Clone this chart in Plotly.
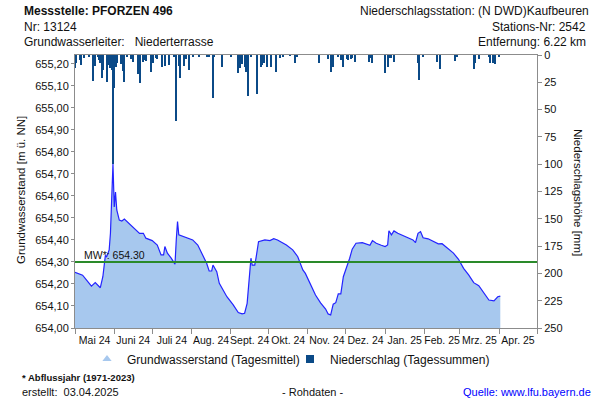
import plotly.graph_objects as go
import pandas as pd

# ---------------- data ----------------
gw_dates = [
    "2024-05-01", "2024-05-07", "2024-05-14", "2024-05-17", "2024-05-21", "2024-05-23",
    "2024-05-25", "2024-05-26", "2024-05-28", "2024-05-29", "2024-05-31", "2024-06-01",
    "2024-06-02", "2024-06-03", "2024-06-05", "2024-06-07", "2024-06-09", "2024-06-13",
    "2024-06-18", "2024-06-21", "2024-06-24", "2024-06-26", "2024-07-01", "2024-07-05",
    "2024-07-08", "2024-07-10", "2024-07-11", "2024-07-13", "2024-07-16", "2024-07-19",
    "2024-07-20", "2024-07-21", "2024-07-22", "2024-07-26", "2024-08-02", "2024-08-06",
    "2024-08-10", "2024-08-13", "2024-08-15", "2024-08-17", "2024-08-18", "2024-08-21",
    "2024-08-23", "2024-08-29", "2024-09-03", "2024-09-07", "2024-09-10", "2024-09-12",
    "2024-09-14", "2024-09-15", "2024-09-17", "2024-09-18", "2024-09-20", "2024-09-21",
    "2024-09-23", "2024-09-28", "2024-10-02", "2024-10-05", "2024-10-08", "2024-10-15",
    "2024-10-20", "2024-10-24", "2024-10-28", "2024-10-30", "2024-11-03", "2024-11-07",
    "2024-11-11", "2024-11-15", "2024-11-17", "2024-11-19", "2024-11-21", "2024-11-23",
    "2024-11-25", "2024-11-27", "2024-11-29", "2024-12-01", "2024-12-04", "2024-12-06",
    "2024-12-09", "2024-12-14", "2024-12-18", "2024-12-20", "2024-12-22", "2024-12-25",
    "2024-12-29", "2025-01-01", "2025-01-03", "2025-01-04", "2025-01-06", "2025-01-08",
    "2025-01-11", "2025-01-17", "2025-01-23", "2025-01-25", "2025-01-27", "2025-01-29",
    "2025-01-31", "2025-02-04", "2025-02-08", "2025-02-12", "2025-02-15", "2025-02-19",
    "2025-02-24", "2025-02-28", "2025-03-04", "2025-03-08", "2025-03-12", "2025-03-16",
    "2025-03-20", "2025-03-24", "2025-03-28", "2025-03-31", "2025-04-02",
]
gw_values = [
    654.253, 654.240, 654.190, 654.206, 654.183, 654.233,
    654.330, 654.324, 654.355, 654.430, 654.745, 654.550,
    654.617, 654.536, 654.490, 654.486, 654.495, 654.473,
    654.445, 654.430, 654.430, 654.408, 654.397, 654.377,
    654.332, 654.332, 654.370, 654.340, 654.317, 654.290,
    654.400, 654.483, 654.423, 654.415, 654.400, 654.377,
    654.332, 654.294, 654.259, 654.259, 654.286, 654.256,
    654.203, 654.142, 654.105, 654.070, 654.064, 654.067,
    654.112, 654.188, 654.317, 654.286, 654.286, 654.317,
    654.392, 654.400, 654.397, 654.406, 654.400, 654.377,
    654.355, 654.324, 654.264, 654.248, 654.200, 654.150,
    654.114, 654.086, 654.064, 654.059, 654.108, 654.115,
    654.155, 654.155, 654.233, 654.264, 654.317, 654.358,
    654.385, 654.388, 654.382, 654.376, 654.397, 654.385,
    654.376, 654.370, 654.377, 654.442, 654.423, 654.441,
    654.430, 654.415, 654.400, 654.388, 654.430, 654.438,
    654.410, 654.405, 654.395, 654.382, 654.383, 654.362,
    654.340, 654.312, 654.271, 654.241, 654.206, 654.192,
    654.160, 654.127, 654.123, 654.142, 654.145,
]

rain_dates = [
    "2024-05-01", "2024-05-02", "2024-05-05", "2024-05-06", "2024-05-08", "2024-05-12",
    "2024-05-15", "2024-05-17", "2024-05-19", "2024-05-20", "2024-05-21", "2024-05-22",
    "2024-05-23", "2024-05-26", "2024-05-28", "2024-05-29", "2024-05-30", "2024-05-31",
    "2024-06-01", "2024-06-02", "2024-06-03", "2024-06-06", "2024-06-07", "2024-06-08",
    "2024-06-09", "2024-06-11", "2024-06-14", "2024-06-16", "2024-06-20", "2024-06-21",
    "2024-06-24", "2024-06-25", "2024-06-26", "2024-06-30", "2024-07-02", "2024-07-04",
    "2024-07-05", "2024-07-09", "2024-07-11", "2024-07-14", "2024-07-18", "2024-07-20",
    "2024-07-22", "2024-07-23", "2024-07-26", "2024-07-28", "2024-07-30", "2024-08-02",
    "2024-08-07", "2024-08-13", "2024-08-15", "2024-08-18", "2024-08-19", "2024-08-25",
    "2024-09-01", "2024-09-07", "2024-09-08", "2024-09-10", "2024-09-12", "2024-09-13",
    "2024-09-15", "2024-09-17", "2024-09-22", "2024-09-25", "2024-09-26", "2024-09-27",
    "2024-09-30", "2024-10-03", "2024-10-07", "2024-10-10", "2024-10-12", "2024-10-18",
    "2024-10-22", "2024-10-23", "2024-11-10", "2024-11-17", "2024-11-19", "2024-11-21",
    "2024-11-25", "2024-11-27", "2024-11-29", "2024-12-02", "2024-12-03", "2024-12-05",
    "2024-12-06", "2024-12-08", "2024-12-19", "2024-12-21", "2024-12-22", "2025-01-01",
    "2025-01-03", "2025-01-04", "2025-01-06", "2025-01-08", "2025-01-27", "2025-01-28",
    "2025-01-31", "2025-02-11", "2025-02-13", "2025-02-25", "2025-02-27", "2025-03-12",
    "2025-03-13", "2025-03-16", "2025-03-24", "2025-03-25", "2025-03-27", "2025-03-29",
    "2025-04-01",
]
rain_values = [
    12.2, 7.6, 4.6, 9.2, 3.0, 2.0,
    23.5, 10.0, 2.0, 4.6, 7.6, 21.4,
    13.7, 24.4, 9.2, 12.2, 13.7, 100.0,
    29.9, 10.7, 7.6, 8.2, 2.1, 14.4,
    24.4, 1.5, 4.0, 6.1, 17.4, 25.3,
    6.1, 4.6, 5.2, 15.3, 7.0, 3.1,
    4.0, 10.7, 9.8, 9.2, 2.1, 60.4,
    10.0, 21.4, 10.0, 4.0, 13.7, 2.1,
    1.5, 2.1, 1.5, 39.0, 1.5, 11.3,
    2.1, 16.2, 12.2, 8.2, 10.7, 15.3,
    37.5, 1.5, 36.0, 11.3, 9.2, 7.0,
    11.3, 10.7, 15.9, 3.1, 2.1, 0.9,
    7.0, 2.1, 7.6, 4.0, 15.3, 10.7,
    1.5, 4.6, 11.3, 4.0, 4.6, 4.0,
    3.1, 6.1, 6.1, 3.1, 7.0, 16.2,
    10.7, 3.1, 3.1, 6.1, 7.6, 22.9,
    1.5, 6.1, 13.1, 5.2, 1.5, 12.8,
    7.0, 4.0, 2.1, 7.6, 7.0, 8.2,
    1.5,
]

mean_level = 654.30
month_labels = ["Mai 24", "Juni 24", "Juli 24", "Aug. 24", "Sept. 24", "Okt. 24",
                "Nov. 24", "Dez. 24", "Jan. 25", "Feb. 25", "Mrz. 25", "Apr. 25"]
gw_ticks = [654.0 + i * 0.1 for i in range(13)]
rain_ticks = list(range(0, 251, 25))

# ---------------- derived axis positions ----------------
month_starts = pd.date_range("2024-05-01", periods=13, freq="MS")
month_mids = [month_starts[i] + (month_starts[i + 1] - month_starts[i]) / 2 for i in range(12)]

FONT = "Liberation Sans, Arial, sans-serif"
GW_LINE = "#2323ff"
GW_FILL = "#a7c8ee"
RAIN = "#0b4a87"
AXIS = "#8c8c8c"

fig = go.Figure()

fig.add_trace(go.Scatter(
    x=gw_dates, y=gw_values, mode="lines",
    line=dict(color=GW_LINE, width=1.2),
    fill="tozeroy", fillcolor=GW_FILL,
    yaxis="y", showlegend=False, hoverinfo="x+y",
))

fig.add_trace(go.Bar(
    x=rain_dates, y=rain_values, yaxis="y2",
    marker=dict(color=RAIN, line=dict(width=0)),
    width=86400000 * 0.8, showlegend=False,
))

# legend entries
fig.add_trace(go.Scatter(
    x=[None], y=[None], mode="markers", name="Grundwasserstand (Tagesmittel)",
    marker=dict(symbol="triangle-up", color=GW_FILL, size=8), legend="legend",
))
fig.add_trace(go.Scatter(
    x=[None], y=[None], mode="markers", name="Niederschlag (Tagessummen)",
    marker=dict(symbol="square", color=RAIN, size=8), legend="legend2",
))

fig.add_shape(type="line", xref="paper", x0=0, x1=1, yref="y", y0=mean_level, y1=mean_level,
              line=dict(color="#2a8a2a", width=2), layer="above")


def ann(text, x, y, xanchor="left", size=12, bold=False, color="#111", **kw):
    if bold:
        text = "<b>" + text + "</b>"
    fig.add_annotation(text=text, x=x, y=y, xref="paper", yref="paper",
                       xanchor=xanchor, yanchor="middle", showarrow=False,
                       font=dict(family=FONT, size=size, color=color), **kw)


def px_x(p):
    return (p - 75) / 462.0


def px_y(p):
    return (328 - p) / 273.0


ann("Messstelle: PFORZEN 496", px_x(22), px_y(11.5), bold=True)
ann("Nr: 13124", px_x(22), px_y(27.5))
ann("Grundwasserleiter:&nbsp;&nbsp;&nbsp;Niederterrasse", px_x(22), px_y(42.5))
ann("Niederschlagsstation: (N DWD)Kaufbeuren", px_x(591), px_y(11.5), xanchor="right")
ann("Stations-Nr: 2542", px_x(588), px_y(27.5), xanchor="right")
ann("Entfernung: 6.22 km", px_x(588), px_y(42.5), xanchor="right")

ann("Grundwasserstand [m ü. NN]", px_x(21), px_y(190), xanchor="center", size=11.5, textangle=-90)
ann("Niederschlagshöhe [mm]", px_x(578), px_y(192), xanchor="center", size=11.5, textangle=90)

ann("* Abflussjahr (1971-2023)", px_x(20), px_y(377), size=9.5, bold=True)
ann("erstellt:&nbsp;&nbsp;03.04.2025", px_x(20), px_y(392), size=11)
ann("- Rohdaten -", px_x(312), px_y(392), xanchor="center", size=11)
ann("Quelle: www.lfu.bayern.de", px_x(593), px_y(392), xanchor="right", size=11, color="#0000ff")

fig.add_annotation(text="MW*: 654.30", x=px_x(82), y=mean_level, xref="paper", yref="y",
                   xanchor="left", yanchor="bottom", showarrow=False, yshift=-1,
                   font=dict(family=FONT, size=10.5, color="#111"))

legend_common = dict(orientation="h", yanchor="middle", y=px_y(359), xanchor="left",
                     font=dict(family=FONT, size=12, color="#111"), itemwidth=30,
                     bgcolor="rgba(0,0,0,0)")

fig.update_layout(
    width=600, height=400, autosize=False,
    margin=dict(l=75, r=63, t=55, b=72, pad=0),
    paper_bgcolor="white", plot_bgcolor="white",
    separators=",.",
    font=dict(family=FONT, size=11, color="#111"),
    bargap=0,
    showlegend=True,
    legend=dict(x=px_x(87), **legend_common),
    legend2=dict(x=px_x(290), **legend_common),
    xaxis=dict(
        type="date", range=[month_starts[0], month_starts[-1]],
        tickmode="array", tickvals=month_mids, ticktext=month_labels,
        tickangle=0,
        ticks="outside", ticklen=2, tickcolor="rgba(0,0,0,0)",
        tickfont=dict(size=10.5, color="#111"),
        showline=True, linecolor=AXIS, linewidth=1, mirror=True,
        showgrid=False, zeroline=False,
        minor=dict(tickmode="array", tickvals=list(month_starts), ticks="outside",
                   ticklen=5, tickcolor=AXIS, showgrid=False),
    ),
    yaxis=dict(
        range=[654.0, 655.24], tickmode="array", tickvals=gw_ticks, tickformat=".2f",
        ticks="outside", ticklen=3, tickcolor=AXIS,
        tickfont=dict(size=11, color="#111"),
        showline=True, linecolor=AXIS, linewidth=1,
        showgrid=False, zeroline=False,
    ),
    yaxis2=dict(
        overlaying="y", side="right", range=[250, 0],
        tickmode="array", tickvals=rain_ticks,
        ticks="outside", ticklen=4, tickcolor=AXIS,
        tickfont=dict(size=11, color="#111"),
        showline=True, linecolor=AXIS, linewidth=1,
        showgrid=False, zeroline=False,
    ),
)

fig.write_html("out.html")
